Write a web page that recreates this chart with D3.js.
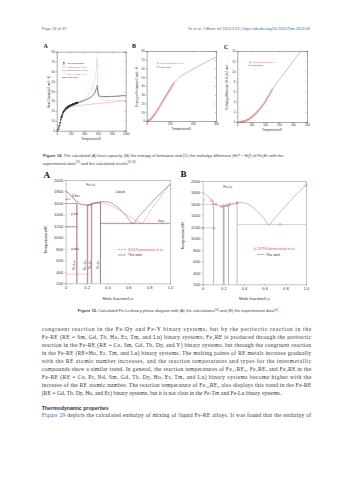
<!DOCTYPE html>
<html><head><meta charset="utf-8">
<script src="https://cdn.jsdelivr.net/npm/d3@7"></script>
<style>body{margin:0;background:#fff}svg{display:block}</style>
</head><body>
<script>
// ---------------- DATA ----------------
// Fig 14A heat capacity
const cpTicksX=[0,200,400,600,800,1000];
const cpTicksY=[0,10,20,30,40,50,60,70,80];
const germannT=[20,30,40,50,60,70,80,90,100,110,120,130,140,150,160,170,180,190,200,210,220,230,240,250,260,270,280,290,300,310];
const germannCp=[0.6,2.2,4.8,7.8,10.8,13.4,15.6,17.4,18.9,20.1,21.1,21.9,22.6,23.2,23.7,24.2,24.6,25.0,25.4,25.7,26.0,26.3,26.6,26.9,27.2,27.4,27.7,27.9,28.2,28.4];
const workAT=[20,40,60,80,100,150,200,250,300,350,400,450,500,530,555,570,580,588,595,610,650,700,800,900,950,1000];
const workACp=[0.6,4.8,10.8,15.6,18.9,23.2,25.4,26.9,28.2,29.5,30.8,32.3,34.3,36.2,38.8,41.5,44,46,40,35.5,34.8,34.6,34.8,35.2,35.8,35.6];
const wangT=[100,200,300,400,450,500,530,555,570,580,585,590,600,620,650,700,800,900,1000];
const wangCp=[18.9,25.4,28.6,32.5,36,41,46,53,60,68,74,60,40,33,31.5,31,30.8,30.6,30.5];
const nikolovT=[100,200,300,400,500,550,575,590,610,650,800,1000];
const nikolovCp=[18.5,25,28,30.5,34,38,42,43,35,34.2,34.5,35];
const mirkovT=[100,200,300,400,500,600,700,800,900,1000];
const mirkovCp=[19,23.8,25.2,26,26.8,27.5,28.2,28.9,29.6,30.3];
const legendA=["1991 Germann","2015 Mirkov et al.","2017 Nikolov et al.","2017 Wang et al.","This work"];
// Fig 14B entropy
const sTicksX=[0,200,400,600];
const sTicksY=[0,10,20,30,40,50,60,70,80];
const expST=[10,20,30,40,50,60,70,80,90,100,110,120,130,140,150,160,170,180,190,200,210,220,230];
const expS=[0.1,0.6,1.5,2.8,4.3,6,7.8,9.7,11.8,13.9,16,18.2,20.4,22.6,24.8,27,29.2,31.4,33.6,35.8,38,40.2,42.4];
const workBT=[0,50,100,150,200,231,260,300,350,400,450,500,550,600];
const workBS=[0,4.3,13.9,24.8,35.8,42.4,47,51.5,55.5,59.2,62.7,66.2,69.6,73];
const legendB=["1988 Germann et al.","This work"];
// Fig 14C enthalpy difference
const hTicksX=[0,100,200,300,400,500];
const hTicksY=[0,2,4,6,8,10,12,14];
const expHT=[20,30,40,50,60,70,80,90,100,110,120,130,140,150,160,170,180,190,200,210,220,230,240,250];
const expH=[0,0.05,0.1,0.15,0.25,0.37,0.52,0.7,0.9,1.13,1.38,1.63,1.9,2.2,2.52,2.86,3.22,3.6,4.0,4.45,4.92,5.4,5.9,6.35];
const workCT=[0,50,100,150,200,250,300,350,400,457];
const workCH=[0,0.15,0.9,2.2,4.0,6.35,8.3,10.1,12.0,14];
const legendC=["1988 Germann et al.","This work"];
// Fig 15 phase diagram Fe-Lu
const pdTicksX=[0,0.2,0.4,0.6,0.8,1.0];
const pdTicksY=[200,400,600,800,1000,1200,1400,1600,1800,2000];
const liqX=[0,0.03,0.06,0.09,0.105,0.13,0.16,0.2,0.24,0.28,0.32,0.36,0.4,0.44,0.48,0.52,0.56,0.6,0.64,0.7,0.76,0.82,0.88,0.94,1.0];
const liqT=[1811,1765,1715,1650,1615,1585,1568,1562,1575,1595,1615,1625,1620,1595,1550,1490,1415,1330,1240,1360,1480,1600,1715,1825,1925];
const liq2X=[0,0.05,0.1,0.15,0.2,0.25,0.3,0.35,0.42,0.5,0.58,0.66,0.73,0.8,0.87,0.94,1.0];
const liq2T=[1811,1720,1640,1590,1570,1580,1600,1600,1560,1490,1400,1310,1245,1430,1610,1780,1925];
const compX=[0.105,0.207,0.25,0.333];
const compTop=[1590,1562,1600,1620];
const compNames=["Fe\u2081\u2087Lu\u2082","Fe\u2082\u2083Lu\u2086","Fe\u2083Lu","Fe\u2082Lu"];
const invX1=[0,0.2,0.25,0.333,0,0];
const invX2=[0.105,0.25,0.333,1.0,0.105,0.03];
const invT=[1590,1560,1600,1240,1185,1667];
const redInvX1=[0,0,0,0.333];
const redInvX2=[0.12,0.06,0.23,1.0];
const redInvT=[1185,1667,360,1248];
const redCompX=[0.11,0.212,0.245,0.333];
const kolX=[0.09,0.103,0.13,0.18,0.2,0.23,0.26,0.335,0.75,0.11,0,1.0];
const kolT=[1657,1600,1600,1553,1576,1576,1594,1623,1245,1176,1176,1930];
const legend15A=["2014 Konstantinov et al.","This work"];
const legend15B=["1979 Kolesnichenko et al.","This work"];
// Text
const bodyLines=[
"congruent reaction in the Fe-Dy and Fe-Y binary systems, but by the peritectic reaction in the",
"Fe-RE (RE = Sm, Gd, Tb, Ho, Er, Tm, and Lu) binary systems; Fe\u2083RE is produced through the peritectic",
"reaction in the Fe-RE (RE = Ce, Sm, Gd, Tb, Dy, and Y) binary systems, but through the congruent reaction",
"in the Fe-RE (RE=Ho, Er, Tm, and Lu) binary systems. The melting points of RE metals increase gradually",
"with the RE atomic number increases, and the reaction temperatures and types for the intermetallic",
"compounds show a similar trend. In general, the reaction temperatures of Fe\u2081\u2087RE\u2082, Fe\u2083RE, and Fe\u2082RE in the",
"Fe-RE (RE = Ce, Pr, Nd, Sm, Gd, Tb, Dy, Ho, Er, Tm, and Lu) binary systems become higher with the",
"increase of the RE atomic number. The reaction temperature of Fe\u2082\u2083RE\u2086 also displays this trend in the Fe-RE",
"(RE = Gd, Tb, Dy, Ho, and Er) binary systems, but it is not clear in the Fe-Tm and Fe-Lu binary systems."
];

// ---------------- DRAW ----------------
const SANS="'Liberation Sans', Arial, sans-serif";
const SERIF="'Liberation Serif', 'Times New Roman', serif";
const RED="#e0474c", PINK="#cc66cc", BLUE="#3a55b8";
const svg=d3.select("body").append("svg").attr("width",353).attr("height",480)
  .style("font-family",SANS);

// header
svg.append("text").attr("x",41.7).attr("y",30).attr("font-size",4).attr("fill","#666").text("Page 24 of 37");
const hdr=svg.append("text").attr("x",310).attr("y",30).attr("font-size",3.9).attr("fill","#666").attr("text-anchor","end");
hdr.append("tspan").text("Ye et al. J Mater Inf 2023;3:15  |  ");
hdr.append("tspan").attr("fill","#2f6db5").text("https://dx.doi.org/10.20517/jmi.2023.09");

const zip=(a,b)=>a.map((v,i)=>[v,b[i]]);

function panel(o){
  const g=svg.append("g");
  const x=d3.scaleLinear().domain(o.xd).range([o.x0,o.x1]);
  const y=d3.scaleLinear().domain(o.yd).range([o.y1,o.y0]);
  const fmtX=o.fmtX||(d=>d), fmtY=o.fmtY||(d=>d);
  const ax=g.append("g").attr("transform",`translate(0,${o.y1})`)
    .call(d3.axisBottom(x).tickValues(o.xt).tickSize(o.ts).tickPadding(o.tp).tickFormat(fmtX));
  const ay=g.append("g").attr("transform",`translate(${o.x0},0)`)
    .call(d3.axisLeft(y).tickValues(o.yt).tickSize(o.ts).tickPadding(o.tp).tickFormat(fmtY));
  const at=g.append("g").attr("transform",`translate(0,${o.y0})`)
    .call(d3.axisTop(x).tickValues(o.xt).tickSize(o.ts2).tickFormat(""));
  const ar=g.append("g").attr("transform",`translate(${o.x1},0)`)
    .call(d3.axisRight(y).tickValues(o.yt).tickSize(o.ts2).tickFormat(""));
  [ax,ay,at,ar].forEach(a=>{
    a.select(".domain").attr("stroke",o.col).attr("stroke-width",0.5);
    a.selectAll(".tick line").attr("stroke",o.col).attr("stroke-width",0.4);
    a.selectAll(".tick text").attr("font-size",o.fs).attr("fill","#333").attr("font-family",SANS);
  });
  g.append("text").attr("x",(o.x0+o.x1)/2).attr("y",o.xly).attr("text-anchor","middle")
    .attr("font-size",o.lfs).attr("fill","#333").text(o.xl);
  g.append("text").attr("transform",`translate(${o.ylx},${o.ylc||(o.y0+o.y1)/2}) rotate(-90)`)
    .attr("text-anchor","middle").attr("font-size",o.lfs).attr("fill","#333").text(o.yl);
  g.append("text").attr("x",o.lx).attr("y",o.ly).attr("font-size",o.Lfs).attr("font-weight","bold")
    .attr("font-family",SERIF).attr("fill","#111").text(o.L);
  return {g,x,y};
}
function path(p,xs,ys,col,w,dash){
  const line=d3.line().x(d=>p.x(d[0])).y(d=>p.y(d[1])).curve(d3.curveMonotoneX);
  p.g.append("path").datum(zip(xs,ys)).attr("d",line).attr("fill","none")
    .attr("stroke",col).attr("stroke-width",w).attr("stroke-dasharray",dash||null);
}

// ---- Figure 14A
const pA=panel({x0:56.7,x1:125.7,y0:51.7,y1:130.7,xd:[0,1000],yd:[0,80],xt:cpTicksX,yt:cpTicksY,
  ts:1.2,ts2:-1.2,tp:0.8,fs:2.8,col:"#555",lfs:3,xl:"Temperature/K",xly:139.5,
  yl:"Heat Capacity/J mol\u207B\u00B9 K\u207B\u00B9",ylx:49.8,L:"A",lx:43.5,ly:48,Lfs:6});
path(pA,mirkovT,mirkovCp,RED,0.45,"1.6,0.8");
path(pA,nikolovT,nikolovCp,BLUE,0.45,"1.6,0.6,0.4,0.6");
path(pA,wangT,wangCp,PINK,0.45,"0.5,0.5");
path(pA,workAT,workACp,"#333",0.5);
pA.g.selectAll("rect.pt").data(zip(germannT,germannCp)).join("rect")
  .attr("x",d=>pA.x(d[0])-0.7).attr("y",d=>pA.y(d[1])-0.7).attr("width",1.4).attr("height",1.4)
  .attr("fill","none").attr("stroke","#222").attr("stroke-width",0.35);
{
  const cols=["#222",RED,BLUE,PINK,"#333"], dashes=[null,"1.6,0.8","1.6,0.6,0.4,0.6","0.5,0.5",null];
  legendA.forEach((t,i)=>{
    const yy=63.5+i*3.5;
    if(i===0){pA.g.append("rect").attr("x",63.3).attr("y",yy-0.7).attr("width",1.4).attr("height",1.4).attr("fill","none").attr("stroke","#222").attr("stroke-width",0.35);}
    else pA.g.append("line").attr("x1",62).attr("x2",66.5).attr("y1",yy).attr("y2",yy).attr("stroke",cols[i]).attr("stroke-width",0.45).attr("stroke-dasharray",dashes[i]);
    pA.g.append("text").attr("x",67.5).attr("y",yy+0.9).attr("font-size",2.5).attr("fill",cols[i]).text(t);
  });
}

// ---- Figure 14B
const pB=panel({x0:146.7,x1:216,y0:51,y1:121,xd:[0,600],yd:[0,80],xt:sTicksX,yt:sTicksY,
  ts:1.2,ts2:-1.2,tp:0.8,fs:2.8,col:"#555",lfs:3,xl:"Temperature/K",xly:130,
  yl:"Entropy of formation/J mol\u207B\u00B9 K\u207B\u00B9",ylx:137.5,L:"B",lx:132,ly:48,Lfs:6});
path(pB,workBT,workBS,"#777",0.45);
pB.g.selectAll("circle.pt").data(zip(expST,expS)).join("circle")
  .attr("cx",d=>pB.x(d[0])).attr("cy",d=>pB.y(d[1])).attr("r",0.9)
  .attr("fill","none").attr("stroke",RED).attr("stroke-width",0.35);
pB.g.append("circle").attr("cx",158).attr("cy",63.3).attr("r",0.9).attr("fill","none").attr("stroke",RED).attr("stroke-width",0.35);
pB.g.append("text").attr("x",160.5).attr("y",64.2).attr("font-size",2.5).attr("fill",RED).text(legendB[0]);
pB.g.append("line").attr("x1",156).attr("x2",160).attr("y1",66.8).attr("y2",66.8).attr("stroke","#777").attr("stroke-width",0.45);
pB.g.append("text").attr("x",160.5).attr("y",67.7).attr("font-size",2.5).attr("fill","#333").text(legendB[1]);

// ---- Figure 14C
const pC=panel({x0:237.3,x1:307,y0:51,y1:122,xd:[0,500],yd:[0,14],xt:hTicksX,yt:hTicksY,
  ts:1.2,ts2:-1.2,tp:0.8,fs:2.8,col:"#555",lfs:3,xl:"Temperature/K",xly:131,
  yl:"Enthalpy difference (H-H\u2080)/kJ mol\u207B\u00B9",ylx:228,L:"C",lx:224,ly:48.5,Lfs:6});
path(pC,workCT,workCH,"#777",0.45);
pC.g.selectAll("circle.pt").data(zip(expHT,expH)).join("circle")
  .attr("cx",d=>pC.x(d[0])).attr("cy",d=>pC.y(d[1])).attr("r",0.9)
  .attr("fill","none").attr("stroke",RED).attr("stroke-width",0.35);
pC.g.append("circle").attr("cx",250).attr("cy",62.3).attr("r",0.9).attr("fill","none").attr("stroke",RED).attr("stroke-width",0.35);
pC.g.append("text").attr("x",252.5).attr("y",63.2).attr("font-size",2.5).attr("fill",RED).text(legendC[0]);
pC.g.append("line").attr("x1",248).attr("x2",252).attr("y1",65.3).attr("y2",65.3).attr("stroke","#777").attr("stroke-width",0.45);
pC.g.append("text").attr("x",252.5).attr("y",66.2).attr("font-size",2.5).attr("fill","#333").text(legendC[1]);

// caption 14
{
  const c1=svg.append("text").attr("x",43).attr("y",157.3).attr("font-size",4.1).attr("fill","#444");
  c1.append("tspan").attr("font-weight","bold").text("Figure 14. ");
  c1.append("tspan").text("The calculated (A) heat capacity, (B) the entropy of formation and (C) the enthalpy difference (H");
  c1.append("tspan").attr("font-size",2.8).attr("dy",1).text("T");
  c1.append("tspan").attr("font-size",2.8).attr("dy",-2.6).text("0");
  c1.append("tspan").attr("dy",1.6).text(" \u2212 H");
  c1.append("tspan").attr("font-size",2.8).attr("dy",1).text("0");
  c1.append("tspan").attr("font-size",2.8).attr("dy",-2.6).text("0");
  c1.append("tspan").attr("dy",1.6).text(") of Fe");
  c1.append("tspan").attr("font-size",2.8).attr("dy",1).text("2");
  c1.append("tspan").attr("dy",-1).text("Er with the");
  const c2=svg.append("text").attr("x",43).attr("y",164.8).attr("font-size",4.1).attr("fill","#444");
  c2.append("tspan").text("experimental data");
  c2.append("tspan").attr("font-size",2.6).attr("dy",-1.6).attr("fill","#2f6db5").text("[93]");
  c2.append("tspan").attr("dy",1.6).text(" and the calculated results");
  c2.append("tspan").attr("font-size",2.6).attr("dy",-1.6).attr("fill","#2f6db5").text("[69-93]");
  c2.append("tspan").attr("dy",1.6).text(".");
}

// ---- Figure 15
const fmtPX=d=>d===0?"0":d.toFixed(1);
function pd(o){
  return panel(Object.assign({xd:[0,1],yd:[200,2000],xt:pdTicksX,yt:pdTicksY,ts:1.5,ts2:0,tp:1,
    fs:4.1,col:"#888",lfs:4.3,xl:"Mole fraction/Lu",xly:299.5,fmtX:fmtPX,Lfs:9},o));
}
function segs(p,x1,x2,T,col,w,dash){
  p.g.selectAll(null).data(T.map((t,i)=>[x1[i],x2[i],t])).join("line")
    .attr("x1",d=>p.x(d[0])).attr("x2",d=>p.x(d[1])).attr("y1",d=>p.y(d[2])).attr("y2",d=>p.y(d[2]))
    .attr("stroke",col).attr("stroke-width",w).attr("stroke-dasharray",dash||null);
}
function verts(p,xs,tops,col,w,dash){
  p.g.selectAll(null).data(xs.map((v,i)=>[v,tops[i]])).join("line")
    .attr("x1",d=>p.x(d[0])).attr("x2",d=>p.x(d[0])).attr("y1",p.y(200)).attr("y2",d=>p.y(d[1]))
    .attr("stroke",col).attr("stroke-width",w).attr("stroke-dasharray",dash||null);
}
const p15A=pd({x0:65.7,x1:170,y0:180,y1:283.3,yl:"Temperature/K",ylx:46.5,ylc:240,L:"A",lx:43.5,ly:177.5});
const p15B=pd({x0:202.7,x1:306,y0:181,y1:284.3,yl:"Temperature/K",ylx:183.5,ylc:236,L:"B",lx:180.5,ly:177});

// 15A
verts(p15A,redCompX,compTop,RED,0.45);
verts(p15A,compX,compTop,"#444",0.45);
segs(p15A,invX1,invX2,invT,"#444",0.45);
segs(p15A,redInvX1,redInvX2,redInvT,RED,0.45,"2,1");
path(p15A,liq2X,liq2T,RED,0.45,"2,1");
path(p15A,liqX,liqT,"#444",0.45);
{
  const t=(x,T,s,col,anchor)=>p15A.g.append("text").attr("x",p15A.x(x)).attr("y",p15A.y(T)).attr("font-size",3.3)
    .attr("fill",col||"#333").attr("text-anchor",anchor||"start").text(s);
  t(0.2,1900,"Fe-Lu"); t(0.48,1780,"Liquid");
  t(0.03,1700,"\u2190\u03B4-bcc"); t(0.02,1385,"\u2190\u03B3-fcc"); t(0.02,785,"\u2190\u03B1-bcc");
  t(0.97,1275,"hcp\u2192",null,"end");
  compNames.forEach((n,i)=>{
    p15A.g.append("text").attr("transform",`translate(${p15A.x(compX[i])-1.2},${p15A.y(520)}) rotate(-90)`)
      .attr("text-anchor","middle").attr("font-size",3.1).attr("fill","#333").text(n);
  });
  p15A.g.append("line").attr("x1",118).attr("x2",126).attr("y1",249.5).attr("y2",249.5).attr("stroke",RED).attr("stroke-width",0.5).attr("stroke-dasharray","2,1");
  p15A.g.append("text").attr("x",128).attr("y",250.7).attr("font-size",3.3).attr("fill",RED).text(legend15A[0]);
  p15A.g.append("line").attr("x1",118).attr("x2",126).attr("y1",255).attr("y2",255).attr("stroke","#444").attr("stroke-width",0.5);
  p15A.g.append("text").attr("x",128).attr("y",256.2).attr("font-size",3.3).attr("fill","#333").text(legend15A[1]);
}
// 15B
verts(p15B,compX,compTop,"#777",0.5);
verts(p15B,[0.2],[1562],"#777",0.5);
segs(p15B,invX1,invX2,invT,"#999",0.45);
path(p15B,liqX,liqT,"#777",0.45);
{
  const tri=d3.symbol().type(d3.symbolTriangle).size(3.2);
  p15B.g.selectAll("path.k").data(zip(kolX,kolT)).join("path").attr("d",tri)
    .attr("transform",d=>`translate(${p15B.x(d[0])},${p15B.y(d[1])})`)
    .attr("fill","none").attr("stroke",RED).attr("stroke-width",0.35);
  p15B.g.append("text").attr("x",p15B.x(0.2)).attr("y",p15B.y(1870)).attr("font-size",3.3).attr("fill","#333").text("Fe-Lu");
  p15B.g.append("path").attr("d",tri).attr("transform","translate(255,249)").attr("fill","none").attr("stroke",RED).attr("stroke-width",0.35);
  p15B.g.append("text").attr("x",257.5).attr("y",250.2).attr("font-size",3.3).attr("fill",RED).text(legend15B[0]);
  p15B.g.append("line").attr("x1",257).attr("x2",264.5).attr("y1",254.5).attr("y2",254.5).attr("stroke","#777").attr("stroke-width",0.5);
  p15B.g.append("text").attr("x",266).attr("y",255.7).attr("font-size",3.3).attr("fill","#333").text(legend15B[1]);
}

// caption 15
{
  const c=svg.append("text").attr("x",178.5).attr("y",312.3).attr("font-size",4.1).attr("fill","#444").attr("text-anchor","middle");
  c.append("tspan").attr("font-weight","bold").text("Figure 15. ");
  c.append("tspan").text("Calculated Fe-Lu binary phase diagram with (A) the calculations");
  c.append("tspan").attr("font-size",2.6).attr("dy",-1.6).attr("fill","#2f6db5").text("[36]");
  c.append("tspan").attr("dy",1.6).text(" and (B) the experimental data");
  c.append("tspan").attr("font-size",2.6).attr("dy",-1.6).attr("fill","#2f6db5").text("[44]");
  c.append("tspan").attr("dy",1.6).text(".");
}

// body text
bodyLines.forEach((s,i)=>{
  const t=svg.append("text").attr("x",41.7).attr("y",330.5+i*8).attr("font-size",5.7)
    .attr("font-family",SERIF).attr("fill","#3a3a3a").text(s);
  if(i<bodyLines.length-1) t.attr("textLength",269.5).attr("lengthAdjust","spacing");
});
svg.append("text").attr("x",41.7).attr("y",409.8).attr("font-size",5.2).attr("font-weight","bold")
  .attr("fill","#333").text("Thermodynamic properties");
{
  const t=svg.append("text").attr("x",41.7).attr("y",416.6).attr("font-size",5.7).attr("font-family",SERIF)
    .attr("fill","#3a3a3a").attr("textLength",269.5).attr("lengthAdjust","spacing");
  t.append("tspan").attr("fill","#2f6db5").text("Figure 29");
  t.append("tspan").text(" depicts the calculated enthalpy of mixing of liquid Fe-RE alloys. It was found that the enthalpy of");
}
</script>
</body></html>
